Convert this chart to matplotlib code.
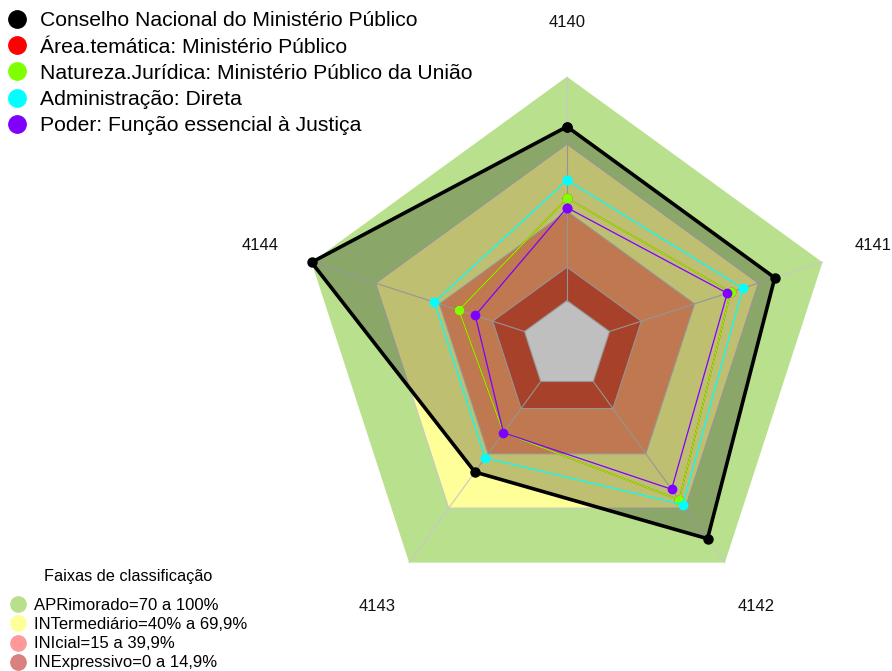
import numpy as np
import matplotlib
matplotlib.use('Agg')
import matplotlib.pyplot as plt
from matplotlib.lines import Line2D

plt.rcParams['font.family'] = ['Liberation Sans', 'DejaVu Sans']

# Dados do radar (percentual por questão)
categorias = ['4140', '4141', '4142', '4143', '4144']
conselho = [77.7, 77.6, 86.8, 50.0, 100.0]
area_tematica = [45.7, 56.9, 65.3, 28.3, 30.8]
natureza = [45.7, 56.9, 65.3, 28.3, 30.8]
administracao = [53.8, 62.6, 68.0, 42.2, 42.3]
poder = [41.5, 55.3, 59.5, 28.3, 23.1]

series_nomes = ['Conselho Nacional do Ministério Público',
                'Área.temática: Ministério Público',
                'Natureza.Jurídica: Ministério Público da União',
                'Administração: Direta',
                'Poder: Função essencial à Justiça']
series_cores = ['black', '#FF0000', '#7FFF00', '#00FFFF', '#7F00FF']

# Faixas de classificação
faixas_titulo = 'Faixas de classificação'
faixas_nomes = ['APRimorado=70 a 100%', 'INTermediário=40% a 69,9%',
                'INIcial=15 a 39,9%', 'INExpressivo=0 a 14,9%']
faixas_limites = [100, 69.9, 39.9, 14.9]
faixas_cores = ['#B9E08D', '#FFFF99', '#FFA16B', '#E05739']
legenda_cores = ['#B8E08C', '#FFFF99', '#FF9999', '#D98080']

n = len(categorias)
theta = np.deg2rad(90 - 72 * np.arange(n))


def coords(valores):
    # escala do fmsb: 0 fica a 1/6 do raio (seg=5)
    r = 1 / 6 + 5 / 6 * np.asarray(valores, dtype=float) / 100
    x = r * np.cos(theta)
    y = r * np.sin(theta)
    return np.append(x, x[0]), np.append(y, y[0])


fig = plt.figure(figsize=(8.92, 6.71), dpi=100)
ax = fig.add_axes([0, 0, 1, 1])
ax.set_xlim(-2.111, 1.210)
ax.set_ylim(-1.2126, 1.2856)
ax.set_aspect('equal')
ax.axis('off')

cinza = '#C8C8C8'
for lim, cor in zip(faixas_limites, faixas_cores):
    x, y = coords([lim] * n)
    ax.fill(x, y, color=cor, lw=0, zorder=1)
    if lim < 100:
        ax.plot(x, y, color=cinza, lw=0.8, zorder=2)
x0, y0 = coords([0] * n)
ax.fill(x0, y0, color='white', lw=0, zorder=1)
ax.plot(x0, y0, color=cinza, lw=0.8, zorder=2)

# eixos radiais
xa, ya = coords([0] * n)
xb, yb = coords([100] * n)
for i in range(n):
    ax.plot([xa[i], xb[i]], [ya[i], yb[i]], color=cinza, lw=0.8, zorder=2)

# série principal com preenchimento
xc, yc = coords(conselho)
ax.fill(xc, yc, color='black', alpha=0.25, lw=0, zorder=3)

outras = [area_tematica, natureza, administracao, poder]
for k, (vals, cor) in enumerate(zip(outras, series_cores[1:])):
    x, y = coords(vals)
    ax.plot(x, y, color=cor, lw=0.9, marker='o', markersize=6, zorder=4 + k)

ax.plot(xc, yc, color='black', lw=2.6, marker='o', markersize=6.5, zorder=10)

# rótulos dos eixos
for i, cat in enumerate(categorias):
    ax.text(1.2 * np.cos(theta[i]), 1.2 * np.sin(theta[i]), cat,
            ha='center', va='center', fontsize=12, color='#111111')

h1 = [Line2D([], [], ls='', marker='o', color=c, markersize=12.5) for c in series_cores]
fig.legend(h1, series_nomes, loc='upper left', bbox_to_anchor=(6.4 / 892, 1 - 11.5 / 671),
           frameon=False, fontsize=15.2, handlelength=1.0, handletextpad=0.58,
           labelspacing=0.34, borderpad=0, borderaxespad=0)

h2 = [Line2D([], [], ls='', marker='o', color=c, markersize=11) for c in legenda_cores]
fig.legend(h2, faixas_nomes, loc='lower left', bbox_to_anchor=(9.7 / 892, 0.5 / 671),
           frameon=False, fontsize=12, handlelength=1.0, handletextpad=0.46,
           labelspacing=0.25, borderpad=0, borderaxespad=0)
fig.text(128 / 892, 1 - 576 / 671, faixas_titulo, ha='center', va='center', fontsize=11.7)

fig.savefig('out.png', dpi=100)
